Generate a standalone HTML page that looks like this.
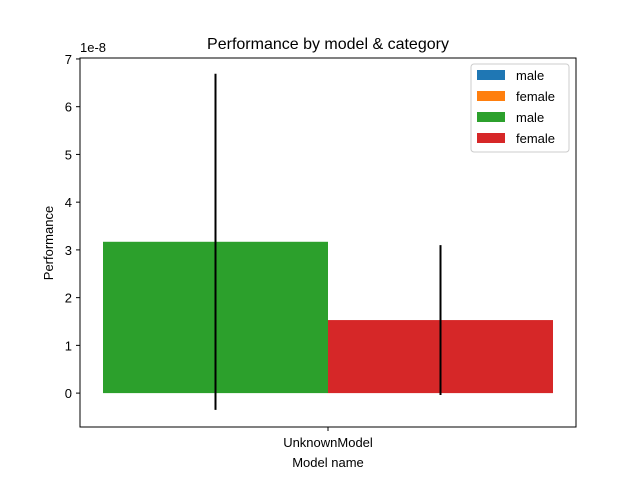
<!DOCTYPE html>
<html><head><meta charset="utf-8"><style>body{margin:0;background:#fff}svg text{font-family:"Liberation Sans","DejaVu Sans",sans-serif;fill:#000}</style></head>
<body>
<svg id="chart" width="640" height="480" xmlns="http://www.w3.org/2000/svg">
<rect x="0" y="0" width="640" height="480" fill="#fff"/>
<text x="328" y="49" font-size="16" text-anchor="middle">Performance by model &amp; category</text>
<text x="80" y="52" font-size="13">1e-8</text>
<g id="plot"></g>
<rect x="80" y="58" width="496" height="369" fill="none" stroke="#000" stroke-width="1"/>
<text x="53" y="243" font-size="13" text-anchor="middle" transform="rotate(-90 53 243)">Performance</text>
<text x="328" y="467" font-size="13" text-anchor="middle">Model name</text>
<g>
<rect x="471" y="64" width="98" height="88" fill="#fff" stroke="#ccc" rx="3"/>
</g>
</svg>
<script>
const categories = ["UnknownModel"];
const seriesNames = ["male","female","male","female"];
const seriesColors = ["#1f77b4","#ff7f0e","#2ca02c","#d62728"];
const maleValues = [3.17];
const femaleValues = [1.53];
const maleErrors = [3.52];
const femaleErrors = [1.57];
const yTicks = [0,1,2,3,4,5,6,7];
const yMin = -0.71, yMax = 7.02;
const svg = document.getElementById('chart');
const plot = document.getElementById('plot');
const NS = 'http://www.w3.org/2000/svg';
const top_ = 58, bottom = 427, left = 80, right = 576;
function y(v){ return bottom - (v - yMin) / (yMax - yMin) * (bottom - top_); }
function mk(tag, attrs, parent){ const e = document.createElementNS(NS, tag); for (const k in attrs) e.setAttribute(k, attrs[k]); (parent||plot).appendChild(e); return e; }
const groupW = 450;
categories.forEach((c, i) => {
  const cx = 328;
  const bw = groupW / 2;
  const bars = [[maleValues[i], maleErrors[i], seriesColors[2], 'bar-male'], [femaleValues[i], femaleErrors[i], seriesColors[3], 'bar-female']];
  bars.forEach((b, j) => {
    const x0 = cx - bw + j * bw;
    const r = mk('rect', {x: x0, y: Math.min(y(b[0]), y(0)), width: bw, height: Math.abs(y(0) - y(b[0])), fill: b[2]});
    
    
    const ex = x0 + bw / 2;
    const l = mk('line', {x1: ex, x2: ex, y1: y(b[0] + b[1]), y2: y(b[0] - b[1]), stroke: '#000', 'stroke-width': 2});
    
    
  });
  mk('line', {x1: cx, x2: cx, y1: bottom, y2: bottom + 4, stroke: '#000'});
  const t = mk('text', {x: cx, y: bottom + 20, 'font-size': 13, 'text-anchor': 'middle'});
  t.textContent = c;
  
  
});
yTicks.forEach(v => {
  mk('line', {x1: left - 4, x2: left, y1: y(v), y2: y(v), stroke: '#000'});
  const t = mk('text', {x: left - 8, y: y(v) + 5, 'font-size': 13, 'text-anchor': 'end'});
  t.textContent = v;
  
  
});
seriesNames.forEach((n, i) => {
  const yy = 70 + i * 21;
  const r = mk('rect', {x: 477, y: yy, width: 28, height: 10, fill: seriesColors[i]}, svg);
  
  
  const t = mk('text', {x: 516, y: yy + 10, 'font-size': 13}, svg);
  t.textContent = n;
  
  
});
</script>
</body></html>
